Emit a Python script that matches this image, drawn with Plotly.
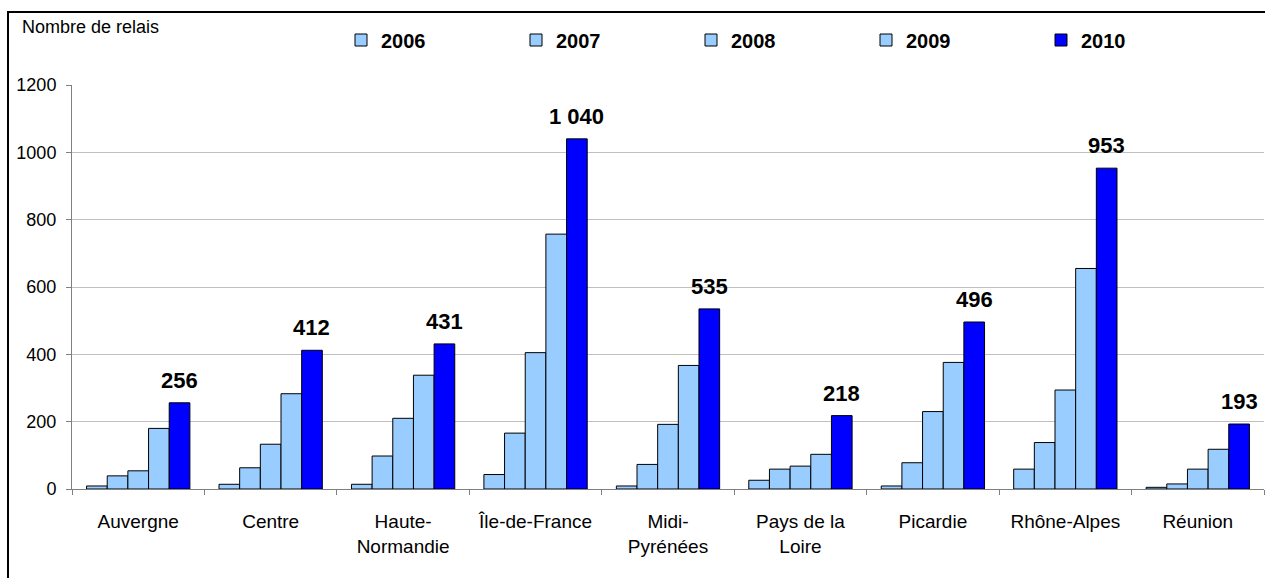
import plotly.graph_objects as go

categories = ["Auvergne", "Centre", "Haute-<br>Normandie", "Île-de-France", "Midi-<br>Pyrénées",
              "Pays de la<br>Loire", "Picardie", "Rhône-Alpes", "Réunion"]
years = ["2006", "2007", "2008", "2009", "2010"]
v2006 = [9, 14, 14, 43, 9, 26, 9, 59, 5]
v2007 = [39, 63, 98, 166, 73, 59, 78, 138, 15]
v2008 = [54, 133, 210, 405, 192, 68, 230, 294, 59]
v2009 = [180, 283, 338, 757, 367, 103, 376, 655, 118]
v2010 = [256, 412, 431, 1040, 535, 218, 496, 953, 193]
labels2010 = ["256", "412", "431", "1 040", "535", "218", "496", "953", "193"]
y_ticks = [0, 200, 400, 600, 800, 1000, 1200]

series = [v2006, v2007, v2008, v2009, v2010]
colors = ["#99CCFF", "#99CCFF", "#99CCFF", "#99CCFF", "#0000FF"]

FONT = "Arial, Liberation Sans, sans-serif"
W, H = 1265, 578
ML, MR, MT, MB = 72, 1, 85, 89
plot_w = W - ML - MR
plot_h = H - MT - MB
BARGAP = 0.22

fig = go.Figure()
for yr, vals, col in zip(years, series, colors):
    fig.add_trace(go.Bar(
        name=yr, x=categories, y=vals,
        marker=dict(color=col, line=dict(color="#000000", width=1)),
    ))

# value labels above the 2010 bars
cat_w = plot_w / len(categories)
bar_w = cat_w * (1 - BARGAP) / len(years)
shift = bar_w * 2
for c, v, t in zip(categories, v2010, labels2010):
    fig.add_annotation(x=c, y=v, text="<b>%s</b>" % t, showarrow=False,
                       xanchor="center", yanchor="bottom", xshift=shift, yshift=8,
                       font=dict(family=FONT, size=22, color="#000000"))

fig.add_annotation(xref="paper", yref="paper", x=(20 - ML) / plot_w, y=(H - MB - 27) / plot_h,
                   text="Nombre de relais", showarrow=False, xanchor="left", yanchor="middle",
                   font=dict(family=FONT, size=18, color="#000000"))

# outer frame
fig.add_shape(type="rect", xref="paper", yref="paper",
              x0=(8 - ML) / plot_w, x1=(W + 6 - ML) / plot_w,
              y0=(H - MB - (H + 6)) / plot_h, y1=(H - MB - 12) / plot_h,
              line=dict(color="#000000", width=2), fillcolor="rgba(0,0,0,0)", layer="below")

fig.update_layout(
    width=W, height=H,
    margin=dict(l=ML, r=MR, t=MT, b=MB, autoexpand=False),
    paper_bgcolor="#FFFFFF", plot_bgcolor="#FFFFFF",
    barmode="group", bargap=BARGAP, bargroupgap=0,
    font=dict(family=FONT, size=16, color="#000000"),
    showlegend=True,
    legend=dict(orientation="h", x=(341 - ML) / plot_w, xanchor="left",
                y=(H - MB - 40) / plot_h, yanchor="middle",
                entrywidth=130, entrywidthmode="pixels", itemwidth=30,
                font=dict(family=FONT, size=20, color="#000000", weight="bold"),
                bgcolor="rgba(0,0,0,0)", traceorder="normal"),
    xaxis=dict(showgrid=False, showline=True, linecolor="#808080", linewidth=1,
               ticks="outside", tickson="boundaries", ticklen=5, tickcolor="#808080",
               ticklabelstandoff=15, tickfont=dict(family=FONT, size=19, color="#000000"),
               fixedrange=True),
    yaxis=dict(range=[0, 1200], tickvals=y_ticks, ticktext=[str(t) for t in y_ticks],
               showgrid=True, gridcolor="#C0C0C0", gridwidth=1,
               showline=True, linecolor="#808080", linewidth=1,
               ticks="outside", ticklen=5, tickcolor="#808080", ticklabelstandoff=6,
               zeroline=False, tickfont=dict(family=FONT, size=18, color="#000000"),
               fixedrange=True),
)

fig.write_html("out.html", config={"displayModeBar": False},
               post_script="document.body.style.margin='0';document.body.style.overflow='hidden';")
